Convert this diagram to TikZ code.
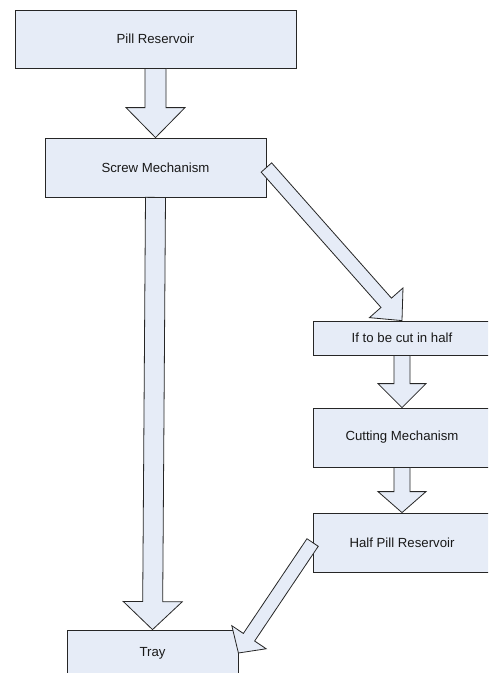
\documentclass[tikz,border=0pt]{standalone}
\usepackage{fontspec}
\setmainfont{Liberation Sans}
\usetikzlibrary{calc}
\definecolor{boxfill}{RGB}{230,236,247}
\tikzset{
  box/.style={draw=black!85, line width=0.8pt, fill=boxfill, inner sep=0pt,
    font=\fontsize{13.2}{16}\selectfont, text=black!90},
  blockarrowstyle/.style={draw=black!85, line width=0.8pt, fill=boxfill, line join=miter}
}
% #1 shaft half-width, #2 head half-width, #3 head length, #4 from, #5 to
\newcommand\blockarr[5]{%
  \coordinate (ba1) at ($(#5)!#3!(#4)$);
  \draw[blockarrowstyle] ($(#4)!#1!90:(#5)$) -- ($(ba1)!#1!90:(#5)$) -- ($(ba1)!#2!90:(#5)$) -- (#5)
    -- ($(ba1)!#2!-90:(#5)$) -- ($(ba1)!#1!-90:(#5)$) -- ($(#4)!#1!-90:(#5)$) -- cycle;}
\begin{document}
\begin{tikzpicture}[x=1pt,y=-1pt]
\useasboundingbox (0,0) rectangle (488,673);
\clip (0,0) rectangle (488,673);
\fill[white] (0,0) rectangle (488,673);
\node[box, minimum width=281pt, minimum height=58pt] (pill) at (155.5,39) {Pill Reservoir};
\node[box, minimum width=221pt, minimum height=59pt] (screw) at (155.5,167.5) {Screw Mechanism};
\node[box, minimum width=178pt, minimum height=34pt] (cut) at (402,338) {If to be cut in half};
\node[box, minimum width=178pt, minimum height=59pt] (cutting) at (402,437.5) {Cutting Mechanism};
\node[box, minimum width=178pt, minimum height=59pt] (half) at (402,542.5) {Half Pill Reservoir};
\node[box, minimum width=171pt, minimum height=46pt] (tray) at (152.5,653) {Tray};
\blockarr{10.5pt}{29.5pt}{30pt}{pill.south}{screw.north}
\blockarr{10pt}{29.5pt}{28pt}{screw.south}{tray.north}
\blockarr{7pt}{22.4pt}{23.8pt}{screw.east}{cut.north}
\blockarr{8pt}{24pt}{24pt}{cut.south}{cutting.north}
\blockarr{8pt}{24pt}{21pt}{cutting.south}{half.north}
\blockarr{6.8pt}{20.7pt}{19pt}{half.west}{tray.east}
\end{tikzpicture}
\end{document}
